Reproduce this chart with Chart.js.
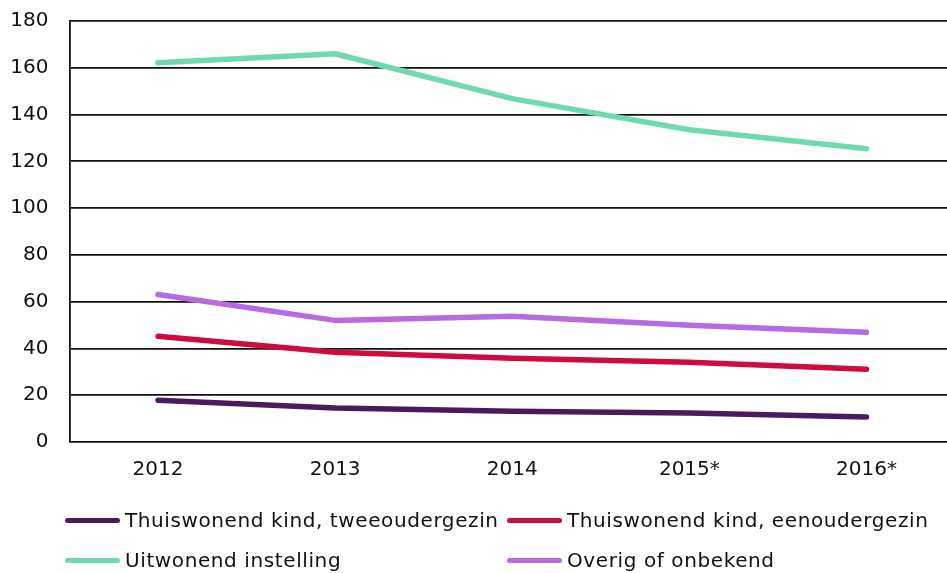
<!DOCTYPE html>
<html>
<head>
<meta charset="utf-8">
<script src="https://cdn.jsdelivr.net/npm/chart.js@4"></script>
<style>
  html, body { margin: 0; padding: 0; background: #fff; overflow: hidden; }
  body { width: 947px; height: 573px; position: relative; font-family: "DejaVu Sans", Verdana, sans-serif; }
  #wrap { position: absolute; left: 0; top: -12px; width: 955px; height: 514px; }
  #legend { position: absolute; left: 0; top: 0; width: 947px; height: 573px; pointer-events: none; }
  .item { position: absolute; display: flex; align-items: center; font-size: 20px; letter-spacing: 0.6px; color: #111; white-space: nowrap; }
  .swatch { width: 55px; height: 5px; border-radius: 3px; margin-right: 5px; }
</style>
</head>
<body>
<div id="wrap"><canvas id="chart"></canvas></div>
<div id="legend"></div>
<script>
// gegevens
const jaren = ['2012', '2013', '2014', '2015*', '2016*'];
const tweeouder = [17.9, 14.5, 13.2, 12.4, 10.7];
const eenouder = [45.2, 38.4, 35.8, 34.1, 31.1];
const instelling = [162.1, 166.0, 146.8, 133.5, 125.4];
const overig = [63.1, 52.0, 53.8, 49.9, 46.9];

const reeksen = [
    { label: 'Thuiswonend kind, tweeoudergezin', data: tweeouder, kleur: '#4b1a5e' },
    { label: 'Thuiswonend kind, eenoudergezin', data: eenouder, kleur: '#cf0a3f' },
    { label: 'Uitwonend instelling', data: instelling, kleur: '#6fdab0' },
    { label: 'Overig of onbekend', data: overig, kleur: '#b96ae0' }
];

const tickFont = { family: 'DejaVu Sans', size: 20 };

const ctx = document.getElementById('chart').getContext('2d');
const chart = new Chart(ctx, {
    type: 'line',
    data: {
        labels: jaren,
        datasets: reeksen.map(r => ({
            label: r.label,
            data: r.data,
            borderColor: r.kleur,
            backgroundColor: r.kleur,
            borderWidth: 5.5,
            borderCapStyle: 'round',
            borderJoinStyle: 'round',
            pointRadius: 0,
            tension: 0,
            fill: false
        }))
    },
    options: {
        responsive: true,
        maintainAspectRatio: false,
        animation: false,
        layout: { padding: { left: 0, top: 0, right: 0, bottom: 4 } },
        plugins: { legend: { display: false }, tooltip: { enabled: false } },
        scales: {
            x: {
                offset: true,
                grid: { display: false, drawTicks: false },
                border: { display: false },
                ticks: { padding: 16, color: '#111', font: tickFont }
            },
            y: {
                min: 0,
                max: 180,
                afterFit: s => { s.width = 69.5; },
                ticks: { stepSize: 20, padding: 21, color: '#111', font: tickFont },
                grid: { color: '#111', lineWidth: 1.8, drawTicks: false },
                border: { display: true, color: '#111', width: 1.8 }
            }
        }
    }
});

// eigen legenda in twee kolommen
const legend = document.getElementById('legend');
const posities = [[65, 520], [507, 520], [65, 560], [507, 560]];
chart.data.datasets.forEach((ds, i) => {
    const el = document.createElement('div');
    el.className = 'item';
    el.style.left = posities[i][0] + 'px';
    el.style.top = (posities[i][1] - 12) + 'px';
    el.style.height = '24px';
    el.innerHTML = '<span class="swatch" style="background:' + ds.borderColor + '"></span>' + ds.label;
    legend.appendChild(el);
});
</script>
</body>
</html>
